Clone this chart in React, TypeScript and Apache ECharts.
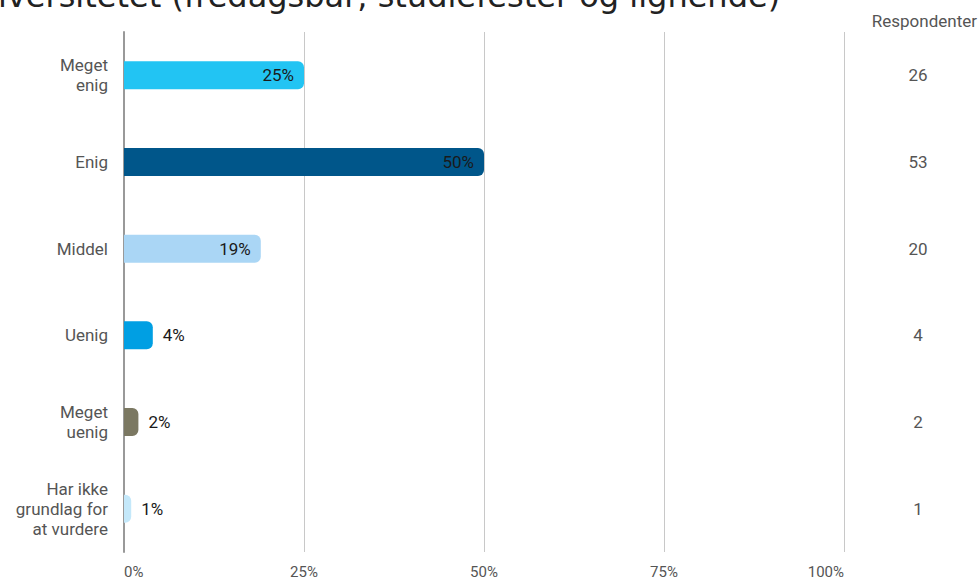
import React, { useEffect, useRef } from "react";
import * as echarts from "echarts";

const categories = ["Meget\nenig", "Enig", "Middel", "Uenig", "Meget\nuenig", "Har ikke\ngrundlag for\nat vurdere"];
const percentValues = [25, 50, 19, 4, 2, 1];
const respondents = ["26", "53", "20", "4", "2", "1"];
const barColors = ["#22C4F3", "#00568A", "#AAD6F5", "#009FE3", "#7B7862", "#C4E8FA"];
const xTicks = [0, 25, 50, 75, 100];
const titleText = "iversitetet (fredagsbar, studiefester og lignende)";

export default function App() {
  const ref = useRef<HTMLDivElement>(null);
  useEffect(() => {
    if (!ref.current) return;
    const chart = echarts.init(ref.current, undefined, { renderer: "svg" });
    const font = "Roboto";
    chart.setOption({
      animation: false,
      backgroundColor: "#ffffff",
      textStyle: { fontFamily: font },
      graphic: [
        {
          type: "text",
          left: -2,
          top: -20,
          style: {
            text: titleText,
            font: "32px 'DejaVu Sans'",
            fill: "#222222",
          },
        },
        {
          type: "text",
          right: 3,
          top: 12,
          style: {
            text: "Respondenter",
            font: "17px Roboto",
            fill: "#555555",
          },
        },
      ],
      grid: { left: 124, right: 136, top: 32, bottom: 29, containLabel: false },
      xAxis: {
        type: "value",
        min: 0,
        max: 100,
        interval: 25,
        axisLine: { show: false },
        axisTick: { show: false },
        splitLine: { show: true, lineStyle: { color: "#c8c8c8", width: 1 } },
        axisLabel: {
          color: "#555555",
          fontSize: 15,
          fontFamily: font,
          margin: 12,
          alignMinLabel: "left",
          alignMaxLabel: "right",
          formatter: (v: number) => (xTicks.includes(v) ? v + "%" : ""),
        },
      },
      yAxis: [
        {
          type: "category",
          data: categories,
          inverse: true,
          axisLine: { show: true, lineStyle: { color: "#999999", width: 2 } },
          axisTick: { show: false },
          axisLabel: {
            color: "#555555",
            fontSize: 17,
            fontFamily: font,
            lineHeight: 20,
            margin: 16,
            align: "right",
          },
        },
        {
          type: "category",
          data: respondents,
          inverse: true,
          position: "right",
          axisLine: { show: false },
          axisTick: { show: false },
          axisLabel: {
            color: "#555555",
            fontSize: 17,
            fontFamily: font,
            margin: 74,
            align: "center",
          },
        },
      ],
      series: [
        {
          type: "bar",
          yAxisIndex: 0,
          barWidth: 28,
          data: percentValues.map((v, i) => ({
            value: v,
            itemStyle: { color: barColors[i], borderRadius: [0, 6, 6, 0] },
            label: {
              show: true,
              position: v > 10 ? "insideRight" : "right",
              distance: 10,
              formatter: v + "%",
              color: "#1a1a1a",
              fontSize: 17,
              fontFamily: font,
            },
          })),
        },
      ],
    });
    return () => chart.dispose();
  }, []);
  return (
    <div
      ref={ref}
      style={{ position: "fixed", left: 0, top: 0, width: 980, height: 581 }}
    />
  );
}
